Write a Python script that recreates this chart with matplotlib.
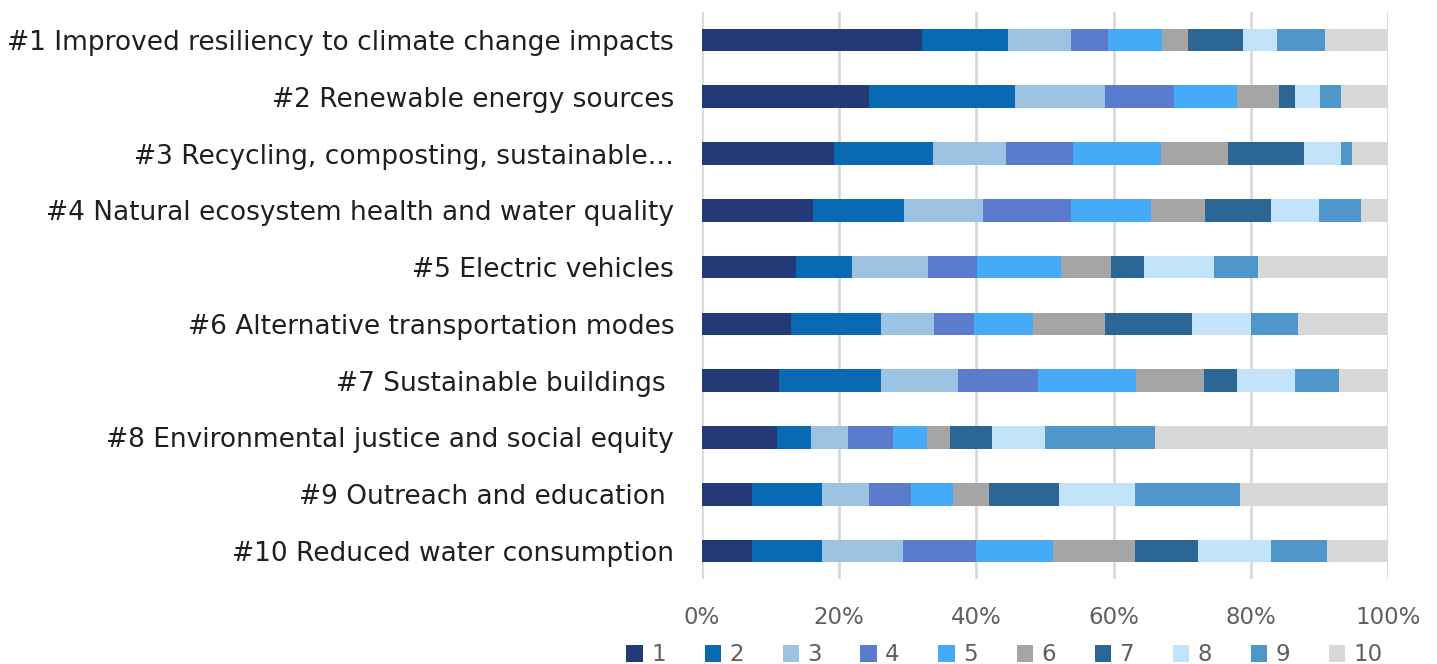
import matplotlib
matplotlib.use("Agg")
import matplotlib.pyplot as plt
import numpy as np

# Priority categories, top to bottom
categories = [
    "#1 Improved resiliency to climate change impacts",
    "#2 Renewable energy sources",
    "#3 Recycling, composting, sustainable…",
    "#4 Natural ecosystem health and water quality",
    "#5 Electric vehicles",
    "#6 Alternative transportation modes",
    "#7 Sustainable buildings ",
    "#8 Environmental justice and social equity",
    "#9 Outreach and education ",
    "#10 Reduced water consumption",
]

# Share of respondents (%) giving each rank 1..10, one list per rank
rank_1 = [32.1, 24.4, 19.3, 16.2, 13.7, 13.0, 11.2, 11.0, 7.3, 7.3]
rank_2 = [12.5, 21.2, 14.3, 13.3, 8.2, 13.1, 14.9, 4.9, 10.2, 10.2]
rank_3 = [9.2, 13.2, 10.7, 11.4, 11.0, 7.7, 11.2, 5.4, 6.9, 11.8]
rank_4 = [5.4, 10.0, 9.8, 12.9, 7.2, 5.8, 11.7, 6.6, 6.1, 10.6]
rank_5 = [7.9, 9.2, 12.8, 11.7, 12.2, 8.6, 14.2, 4.9, 6.1, 11.3]
rank_6 = [3.7, 6.1, 9.8, 7.8, 7.3, 10.6, 9.9, 3.3, 5.3, 11.9]
rank_7 = [8.0, 2.3, 11.0, 9.7, 4.8, 12.6, 4.9, 6.1, 10.2, 9.2]
rank_8 = [5.0, 3.6, 5.4, 6.9, 10.2, 8.6, 8.4, 7.8, 11.0, 10.7]
rank_9 = [7.0, 3.2, 1.7, 6.1, 6.4, 6.9, 6.4, 16.0, 15.3, 8.1]
rank_10 = [9.2, 6.8, 5.2, 4.0, 19.0, 13.1, 7.2, 34.0, 21.6, 8.9]

rank_labels = ["1", "2", "3", "4", "5", "6", "7", "8", "9", "10"]
rank_colors = ["#243A76", "#0969B3", "#9DC3E2", "#5B7BCD", "#45AAF7",
               "#A5A5A5", "#2C6694", "#C3E3FB", "#4F96CA", "#D8D8D8"]

series = [rank_1, rank_2, rank_3, rank_4, rank_5,
          rank_6, rank_7, rank_8, rank_9, rank_10]

plt.rcParams["font.family"] = ["DejaVu Sans"]

fig = plt.figure(figsize=(14.37, 6.64), dpi=100)
ax = fig.add_axes([0.4885, 0.1274, 0.4775, 0.8551])

y = np.arange(len(categories))
left = np.zeros(len(categories))
for vals, lab, col in zip(series, rank_labels, rank_colors):
    vals = np.asarray(vals)
    ax.barh(y, vals, left=left, height=0.4, color=col, label=lab,
            edgecolor="none", zorder=3)
    left += vals

ax.set_xlim(0, 100)
ax.set_ylim(len(categories) - 0.5, -0.5)
ax.set_xticks(np.arange(0, 101, 20))
ax.set_xticklabels([f"{v}%" for v in range(0, 101, 20)])
ax.set_yticks(y)
ax.set_yticklabels(categories)

ax.grid(axis="x", color="#D9D9D9", linewidth=2, zorder=0)
for side in ["top", "right", "bottom", "left"]:
    ax.spines[side].set_visible(False)
ax.tick_params(axis="y", length=0, pad=20, labelsize=19, labelcolor="#1f1f1f")
ax.tick_params(axis="x", length=0, pad=19, labelsize=16.5, labelcolor="#5f5f5f")

fig.legend(loc="center", bbox_to_anchor=(0.699, 0.0136), ncol=10, frameon=False,
           fontsize=16.5, labelcolor="#5f5f5f", handlelength=0.72, handleheight=0.72,
           handletextpad=0.35, columnspacing=1.7, borderaxespad=0)

fig.savefig("out.png", dpi=100)
